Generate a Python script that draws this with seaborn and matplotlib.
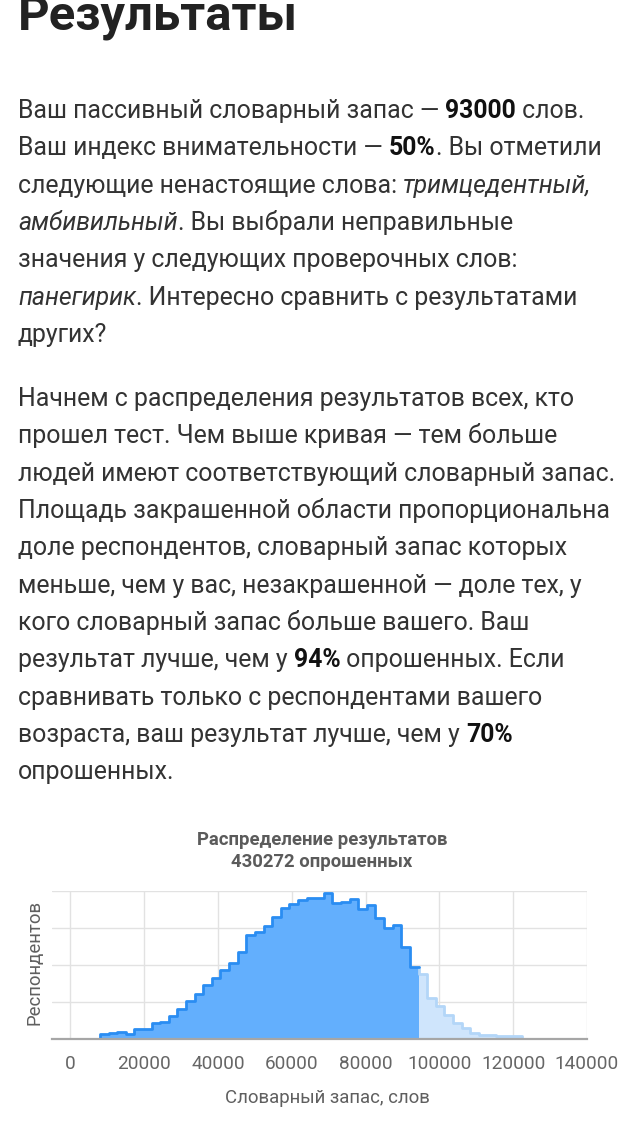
import numpy as np
import pandas as pd
import matplotlib
matplotlib.use("Agg")
import matplotlib.pyplot as plt
import seaborn as sns

# ---------------- data ----------------
bin_edges_below = [8000, 10333, 12667, 15000, 17333, 19667, 22000, 24333, 26667, 29000,
                   31333, 33667, 36000, 38333, 40667, 43000, 45333, 47667, 50000, 52333,
                   54667, 57000, 59333, 61667, 64000, 66333, 68667, 71000, 73333, 75667,
                   78000, 80333, 82667, 85000, 87333, 89667, 92000, 94333]
respondents_below = [650, 750, 950, 650, 1300, 1350, 2200, 2350, 3100, 4000,
                     5100, 6100, 7250, 8300, 9300, 10300, 11800, 14050, 14500, 15300,
                     16500, 17750, 18200, 18850, 19050, 19100, 19700, 18350, 18550, 18900,
                     17550, 18100, 16300, 14950, 15400, 12500, 9750]
bin_edges_above = [94333, 96667, 99000, 101333, 103667, 106000, 108333, 110667, 113000,
                   115333, 117667, 120000, 122333]
respondents_above = [8800, 5550, 4450, 3300, 2200, 1450, 850, 600, 550, 450, 400, 350]

x_ticks = [0, 20000, 40000, 60000, 80000, 100000, 120000, 140000]
y_grid = [0, 5000, 10000, 15000, 20000]

chart_title = ["Распределение результатов", "430272 опрошенных"]
x_label = "Словарный запас, слов"
y_label = "Респондентов"
header = "Результаты"

para1 = [
    [("Ваш пассивный словарный запас — ", "r"), ("93000", "b"), (" слов.", "r")],
    [("Ваш индекс внимательности — ", "r"), ("50%", "b"), (". Вы отметили", "r")],
    [("следующие ненастоящие слова: ", "r"), ("тримцедентный,", "i")],
    [("амбивильный", "i"), (". Вы выбрали неправильные", "r")],
    [("значения у следующих проверочных слов:", "r")],
    [("панегирик", "i"), (". Интересно сравнить с результатами", "r")],
    [("других?", "r")],
]
para2 = [
    [("Начнем с распределения результатов всех, кто", "r")],
    [("прошел тест. Чем выше кривая — тем больше", "r")],
    [("людей имеют соответствующий словарный запас.", "r")],
    [("Площадь закрашенной области пропорциональна", "r")],
    [("доле респондентов, словарный запас которых", "r")],
    [("меньше, чем у вас, незакрашенной — доле тех, у", "r")],
    [("кого словарный запас больше вашего. Ваш", "r")],
    [("результат лучше, чем у ", "r"), ("94%", "b"), (" опрошенных. Если", "r")],
    [("сравнивать только с респондентами вашего", "r")],
    [("возраста, ваш результат лучше, чем у ", "r"), ("70%", "b")],
    [("опрошенных.", "r")],
]

# ---------------- style ----------------
sns.set_theme(style="white")
plt.rcParams["font.family"] = ["Roboto", "DejaVu Sans"]

W, H = 640, 1128
fig = plt.figure(figsize=(W / 100, H / 100), dpi=100)
fig.patch.set_facecolor("white")
renderer = fig.canvas.get_renderer()

FS = 17.9
TXT = "#333333"
styles = {
    "r": dict(fontsize=FS, color=TXT),
    "b": dict(fontsize=FS, color="#111111", fontweight="bold"),
    "i": dict(fontsize=FS, color=TXT, fontstyle="italic"),
}


def fx(x):
    return x / W


def fy(y):
    return 1 - y / H


def seg_width(text, kw):
    t = fig.text(0, 0, "|" + text + "|", **kw)
    t2 = fig.text(0, 0, "||", **kw)
    w = t.get_window_extent(renderer).width - t2.get_window_extent(renderer).width
    t.remove()
    t2.remove()
    return w


def draw_line(x, y, segments):
    for text, st in segments:
        kw = styles[st]
        fig.text(fx(x), fy(y), text, va="baseline", ha="left", **kw)
        x += seg_width(text, kw)


fig.text(fx(18), fy(30), header, fontsize=35.3, fontweight="bold", color="#222222",
         va="baseline", ha="left")

LH = 37.35
for k, segs in enumerate(para1):
    draw_line(18, 118 + k * LH, segs)
for k, segs in enumerate(para2):
    draw_line(18, 406 + k * LH, segs)

# ---------------- chart ----------------
left, right, top, bottom = 52, 587, 891, 1039
ax = fig.add_axes([fx(left), fy(bottom), (right - left) / W, (bottom - top) / H])
ax.set_facecolor("white")

df_below = pd.DataFrame({
    "x": [(a + b) / 2 for a, b in zip(bin_edges_below[:-1], bin_edges_below[1:])],
    "n": respondents_below})
df_above = pd.DataFrame({
    "x": [(a + b) / 2 for a, b in zip(bin_edges_above[:-1], bin_edges_above[1:])],
    "n": respondents_above})

sns.histplot(data=df_below, x="x", weights="n", bins=bin_edges_below, element="step",
             fill=True, color="#63AFFD", alpha=1.0, linewidth=0, ax=ax, zorder=2)
sns.histplot(data=df_above, x="x", weights="n", bins=bin_edges_above, element="step",
             fill=True, color="#CFE5FC", alpha=1.0, linewidth=0, ax=ax, zorder=2)

line_below = pd.DataFrame({
    "x": [bin_edges_below[0]] + bin_edges_below,
    "y": [0] + respondents_below + [respondents_below[-1]]})
line_above = pd.DataFrame({
    "x": [bin_edges_above[0]] + bin_edges_above + [bin_edges_above[-1]],
    "y": [respondents_below[-1]] + respondents_above + [respondents_above[-1], 0]})

sns.lineplot(data=line_above, x="x", y="y", estimator=None, sort=False,
             drawstyle="steps-post", color="#B3D6F8", linewidth=2.0, ax=ax, zorder=3)
sns.lineplot(data=line_below, x="x", y="y", estimator=None, sort=False,
             drawstyle="steps-post", color="#2A8DF2", linewidth=2.0, ax=ax, zorder=4)

ax.set_xlim(-5000, 140000)
ax.set_ylim(0, 20000)
ax.set_xticks(x_ticks)
ax.set_xticklabels([str(v) for v in x_ticks])
ax.set_yticks(y_grid)
ax.set_yticklabels([])
ax.grid(True, color="#e2e2e2", linewidth=1.0, zorder=0)
ax.set_axisbelow(True)
for s in ["top", "left", "right"]:
    ax.spines[s].set_visible(False)
ax.spines["bottom"].set_color("#a6a6a6")
ax.spines["bottom"].set_linewidth(1.6)
ax.spines["bottom"].set_zorder(5)
ax.tick_params(axis="x", length=5.8, width=1.0, color="#e2e2e2", direction="out",
               pad=5.5, labelsize=13.7, labelcolor="#666666")
ax.tick_params(axis="y", length=0)
ax.set_xlabel("")
ax.set_ylabel("")

fig.text(fx(322), fy(840), chart_title[0], fontsize=13.3, fontweight="bold",
         color="#5b5b5b", ha="center", va="center")
fig.text(fx(322), fy(862), chart_title[1], fontsize=13.3, fontweight="bold",
         color="#5b5b5b", ha="center", va="center")
fig.text(fx(327), fy(1098), x_label, fontsize=13.4, color="#5f5f5f",
         ha="center", va="center")
fig.text(fx(35), fy(962), y_label, fontsize=13.4, color="#5f5f5f",
         ha="center", va="center", rotation=90)

fig.savefig("out.png", dpi=100, facecolor="white")
